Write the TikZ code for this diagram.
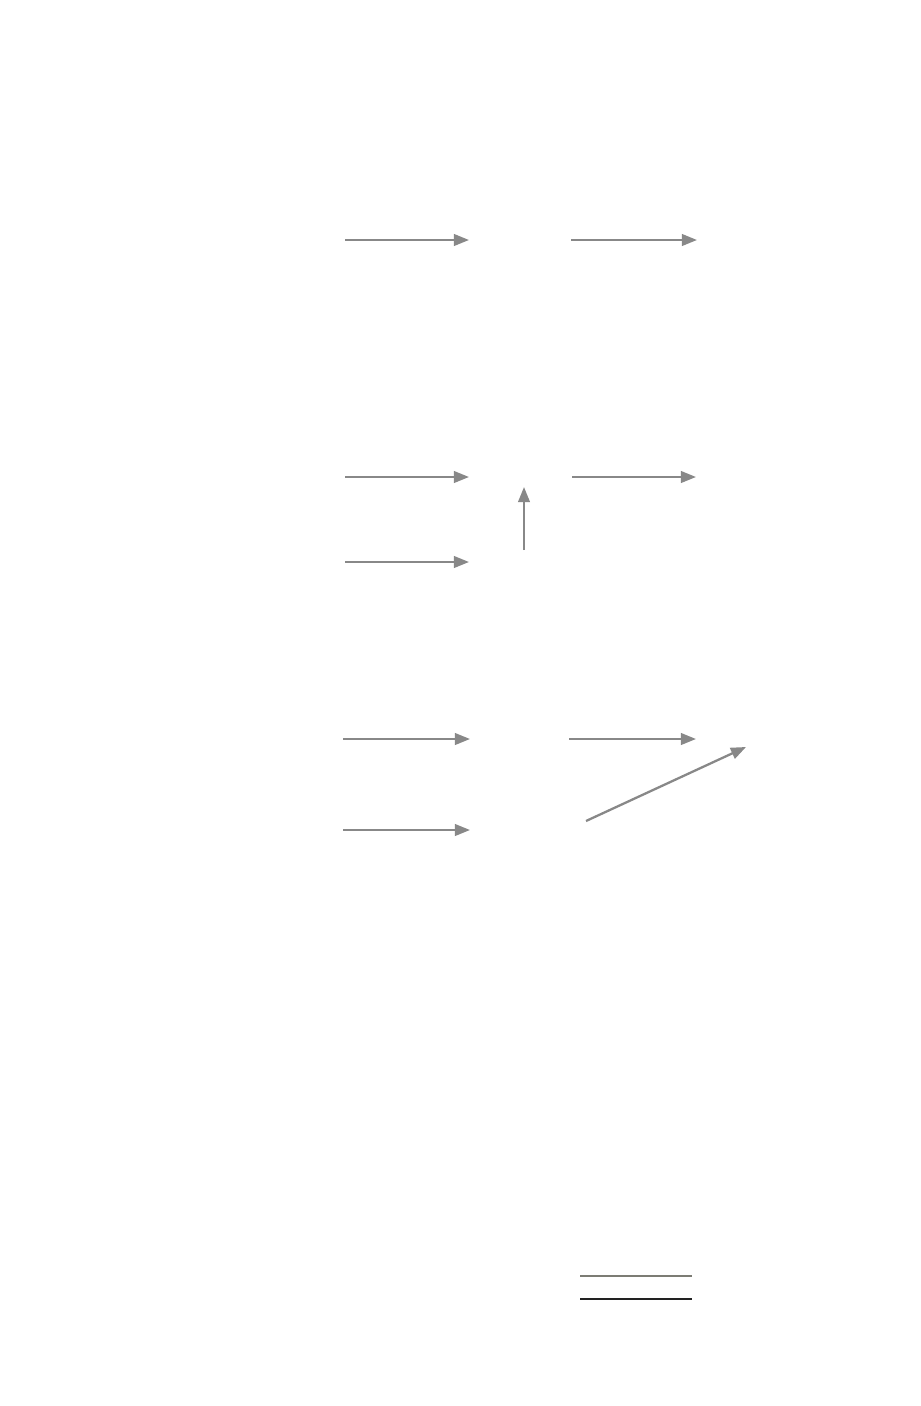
\documentclass[tikz,border=0pt]{standalone}
\usepackage{tikz}
\usetikzlibrary{arrows.meta}

\definecolor{arrowgray}{HTML}{888888}
\definecolor{rulegray}{HTML}{7C7C74}
\definecolor{ruledark}{HTML}{222222}

\tikzset{
  flow/.style={draw=arrowgray, line width=0.65pt, -{Triangle[length=4.3pt, width=3.3pt]}, fill=none},
  rule/.style={line width=0.5pt}
}

\begin{document}
\begin{tikzpicture}[x=0.01cm, y=-0.01cm]
\useasboundingbox (0,0) rectangle (920,1406);

% first row
\coordinate (a1s) at (345,240); \coordinate (a1e) at (469,240);
\coordinate (a2s) at (571,240); \coordinate (a2e) at (697,240);
\draw [flow] (a1s) -- (a1e);
\draw [flow] (a2s) -- (a2e);

% second row
\coordinate (b1s) at (345,477); \coordinate (b1e) at (469,477);
\coordinate (b2s) at (572,477); \coordinate (b2e) at (696,477);
\coordinate (b3s) at (345,562); \coordinate (b3e) at (469,562);
\coordinate (bus) at (524,550); \coordinate (bue) at (524,487);
\draw [flow] (b1s) -- (b1e);
\draw [flow] (b2s) -- (b2e);
\draw [flow] (b3s) -- (b3e);
\draw [flow] (bus) -- (bue);

% third row
\coordinate (c1s) at (343,739); \coordinate (c1e) at (470,739);
\coordinate (c2s) at (569,739); \coordinate (c2e) at (696,739);
\coordinate (c3s) at (343,830); \coordinate (c3e) at (470,830);
\coordinate (cds) at (586,821); \coordinate (cde) at (746,747);
\draw [flow] (c1s) -- (c1e);
\draw [flow] (c2s) -- (c2e);
\draw [flow] (c3s) -- (c3e);
\draw [flow] (cds) -- (cde);

% rules at the bottom
\coordinate (r1s) at (580,1276); \coordinate (r1e) at (692,1276);
\coordinate (r2s) at (580,1299); \coordinate (r2e) at (692,1299);
\draw [rule, rulegray] (r1s) -- (r1e);
\draw [rule, ruledark] (r2s) -- (r2e);
\end{tikzpicture}
\end{document}
